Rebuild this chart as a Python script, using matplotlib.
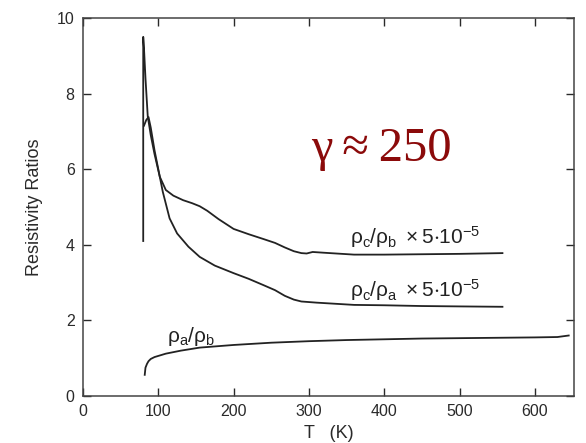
import matplotlib
matplotlib.use("Agg")
import matplotlib.pyplot as plt

# Data
T_cb = [80, 80, 81, 83, 86, 90, 95, 102, 110, 120, 133, 145, 155, 165, 180, 200, 220, 240,
        255, 268, 280, 290, 297, 305, 320, 360, 400, 450, 500, 557]
r_cb = [4.1, 9.5, 9.2, 8.4, 7.4, 6.9, 6.4, 5.8, 5.45, 5.3, 5.18, 5.1, 5.02, 4.9, 4.68, 4.42,
        4.28, 4.15, 4.05, 3.93, 3.83, 3.78, 3.77, 3.81, 3.79, 3.74, 3.74, 3.75, 3.76, 3.78]

T_ca = [81, 84, 87, 90, 95, 100, 106, 115, 125, 140, 155, 175, 200, 220, 240, 255, 268, 280,
        290, 310, 360, 400, 450, 500, 557]
r_ca = [7.15, 7.3, 7.38, 7.1, 6.5, 6.0, 5.4, 4.7, 4.3, 3.95, 3.68, 3.45, 3.25, 3.1, 2.93,
        2.8, 2.65, 2.55, 2.5, 2.47, 2.41, 2.4, 2.38, 2.37, 2.36]

T_ab = [82, 83, 85, 87, 90, 95, 110, 130, 155, 200, 250, 300, 350, 400, 450, 500, 550,
        600, 630, 645]
r_ab = [0.56, 0.75, 0.85, 0.92, 0.98, 1.03, 1.12, 1.2, 1.28, 1.35, 1.41, 1.45, 1.48, 1.5,
        1.52, 1.53, 1.54, 1.55, 1.56, 1.6]

x_ticks = [0, 100, 200, 300, 400, 500, 600]
y_ticks = [0, 2, 4, 6, 8, 10]

plt.rcParams['font.family'] = ['Liberation Sans', 'DejaVu Sans']
plt.rcParams['mathtext.fontset'] = 'custom'
plt.rcParams['mathtext.rm'] = 'Liberation Sans'
plt.rcParams['mathtext.it'] = 'Liberation Sans'

fig = plt.figure(figsize=(5.86, 4.43), dpi=100)
ax = fig.add_axes([0.1416, 0.1061, 0.8379, 0.8533])

lc = '#222222'
ax.plot(T_cb, r_cb, color=lc, lw=1.3)
ax.plot(T_ca, r_ca, color=lc, lw=1.3)
ax.plot(T_ab, r_ab, color=lc, lw=1.3)

ax.set_xlim(0, 652)
ax.set_ylim(0, 10)
ax.set_xticks(x_ticks)
ax.set_yticks(y_ticks)
ax.tick_params(direction='in', length=6, width=1, top=True, right=True,
               labelsize=11.5, colors='#2a2a2a', pad=6)
for s in ax.spines.values():
    s.set_color('#444444')
    s.set_linewidth(1.1)

ax.set_xlabel('T   (K)', fontsize=13, color='#2a2a2a', labelpad=4)
ax.set_ylabel('Resistivity Ratios', fontsize=13, color='#2a2a2a', labelpad=10)

ax.text(355, 4.2, r'$\mathregular{\rho_c/\rho_b\ \times 5{\cdot}10^{-5}}$',
        fontsize=15, color='#222222', va='center', ha='left')
ax.text(355, 2.8, r'$\mathregular{\rho_c/\rho_a\ \times 5{\cdot}10^{-5}}$',
        fontsize=15, color='#222222', va='center', ha='left')
ax.text(111, 1.58, r'$\mathregular{\rho_a/\rho_b}$',
        fontsize=15, color='#222222', va='center', ha='left')

ax.text(303, 6.22, 'γ\u2009≈\u2009250', fontsize=35, color='#8b0a0a',
        family=['Liberation Serif', 'DejaVu Serif'], ha='left', va='baseline')

fig.savefig('out.png', dpi=100)
